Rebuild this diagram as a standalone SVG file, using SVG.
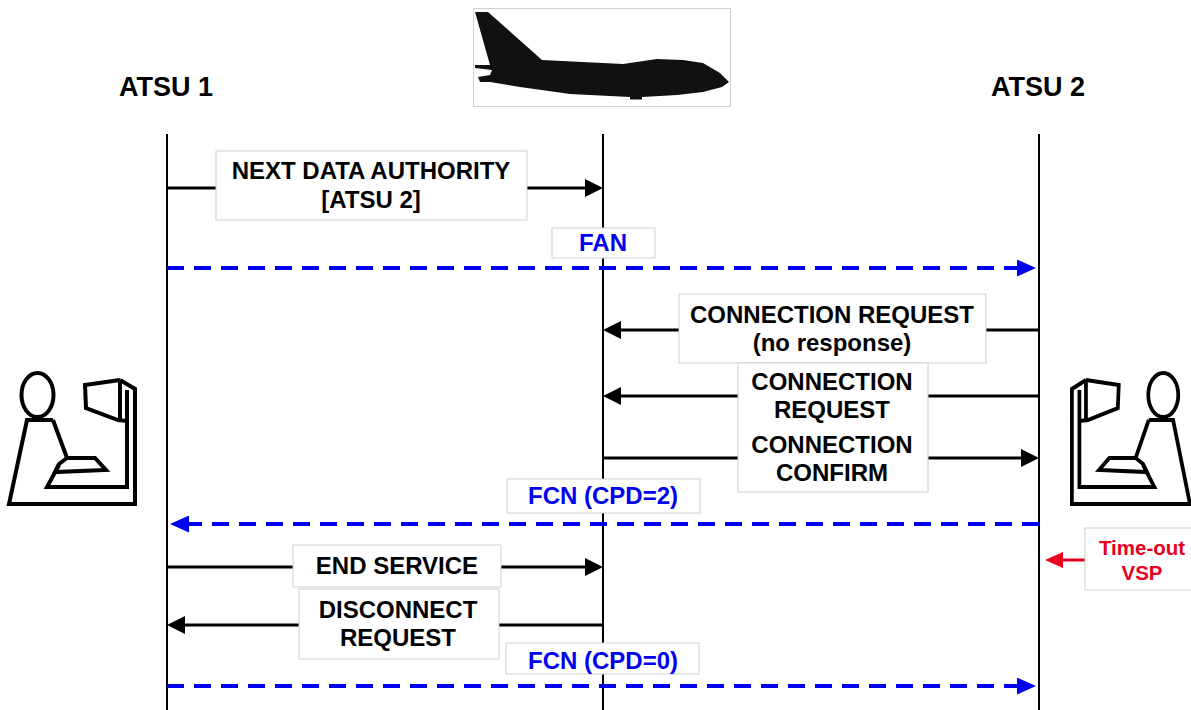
<svg xmlns="http://www.w3.org/2000/svg" width="1191" height="710" viewBox="0 0 1191 710">
  <defs>
    <marker id="ahBlack" markerUnits="userSpaceOnUse" markerWidth="18" markerHeight="18" refX="10" refY="9" orient="auto" viewBox="0 0 18 18">
      <path d="M0,0 L18,9 L0,18 Z" fill="#000"/>
    </marker>
    <marker id="ahBlue" markerUnits="userSpaceOnUse" markerWidth="19" markerHeight="17" refX="11" refY="8.5" orient="auto" viewBox="0 0 19 17">
      <path d="M0,0 L19,8.5 L0,17 Z" fill="#0000f0"/>
    </marker>
    <marker id="ahRed" markerUnits="userSpaceOnUse" markerWidth="18" markerHeight="16" refX="10" refY="8" orient="auto" viewBox="0 0 18 16">
      <path d="M0,0 L18,8 L0,16 Z" fill="#e8001c"/>
    </marker>
    <g id="operator" fill="none" stroke="#000" stroke-width="4" stroke-linejoin="miter">
      <ellipse cx="37.5" cy="395" rx="16" ry="22"/>
      <path d="M53,420 L27,420 L9,504 L135,504 L135,389 L120,380"/>
      <path d="M120,380 L85,385 L86,408 L118,420 L127,421"/>
      <path d="M120,380 L120,420"/>
      <path d="M127,390 L127,487 L47,487 L59,465"/>
      <path d="M53,420 L67,458 L95,458 L106,470 L55,472 L59,464 L67,458"/>
    </g>
  </defs>
  <style>
    .life { stroke:#000; stroke-width:2; fill:none; }
    .msg { stroke:#000; stroke-width:3; fill:none; }
    .dash { stroke:#0000f0; stroke-width:4; fill:none; stroke-dasharray:17 10; }
    .box { fill:#fff; stroke:#d0d0d0; stroke-width:1; }
    .lbl { font-family:"Liberation Sans", Arial, sans-serif; font-weight:bold; text-anchor:middle; fill:#000; font-size:24px; }
    .title { font-size:27px; }
    .small { font-size:20.5px; }
    .blue { fill:#0000f0; }
    .red { fill:#e8001c; }
  </style>
  <rect width="1191" height="710" fill="#fff"/>

  <g id="lifelines">
    <line class="life" x1="167" y1="134" x2="167" y2="710"/>
    <line class="life" x1="603" y1="134" x2="603" y2="710"/>
    <line class="life" x1="1039" y1="134" x2="1039" y2="710"/>
  </g>

  <g id="connectors">
    <line class="msg" x1="167" y1="188" x2="595" y2="188" marker-end="url(#ahBlack)"/>
    <line class="dash" x1="167" y1="268" x2="1028" y2="268" marker-end="url(#ahBlue)"/>
    <line class="msg" x1="1039" y1="330" x2="611" y2="330" marker-end="url(#ahBlack)"/>
    <line class="msg" x1="1039" y1="396" x2="611" y2="396" marker-end="url(#ahBlack)"/>
    <line class="msg" x1="603" y1="458" x2="1031" y2="458" marker-end="url(#ahBlack)"/>
    <line class="dash" x1="1039" y1="524" x2="178" y2="524" marker-end="url(#ahBlue)"/>
    <line class="msg" x1="167" y1="567" x2="595" y2="567" marker-end="url(#ahBlack)"/>
    <line class="msg" x1="603" y1="625" x2="175" y2="625" marker-end="url(#ahBlack)"/>
    <line class="dash" x1="167" y1="686" x2="1028" y2="686" marker-end="url(#ahBlue)"/>
    <line stroke="#e8001c" stroke-width="3" x1="1085" y1="560" x2="1053" y2="560" marker-end="url(#ahRed)"/>
  </g>

  <g id="atsu1">
    <text class="lbl title" x="166" y="96">ATSU 1</text>
    <use href="#operator"/>
  </g>

  <g id="atsu2">
    <text class="lbl title" x="1038" y="96">ATSU 2</text>
    <use href="#operator" transform="translate(1198.4,0) scale(-0.937,1)"/>
  </g>

  <g id="aircraft">
    <rect x="473.5" y="8.5" width="257" height="98" fill="#fff" stroke="#d0d0d0" stroke-width="1"/>
    <path fill="#111" d="M475,12 L488,12 L542,60 L623,64 L657,59 L683,60 L703,63 L720,73 L729,82 L722,87 L703,92 L677,95 L642,97 L642,99.5 L630,99.5 L630,97 L570,94 L520,87 L490,82 L480,82 L478,77 L490,75 L492,70 L475,68 L475,65 L490,65 Z"/>
  </g>

  <g id="msg-nda">
    <rect class="box" x="216" y="151" width="311" height="69"/>
    <text class="lbl" x="371" y="179">NEXT DATA AUTHORITY</text>
    <text class="lbl" x="371" y="208">[ATSU 2]</text>
  </g>

  <g id="msg-fan">
    <rect class="box" x="552" y="228" width="103" height="30"/>
    <text class="lbl blue" x="603" y="251">FAN</text>
  </g>

  <g id="msg-cr1">
    <rect class="box" x="679" y="294" width="307" height="69"/>
    <text class="lbl" x="832" y="323">CONNECTION REQUEST</text>
    <text class="lbl" x="832" y="351">(no response)</text>
  </g>

  <g id="msg-cr2-cc">
    <rect class="box" x="738" y="363" width="190" height="129"/>
    <text class="lbl" x="832" y="390">CONNECTION</text>
    <text class="lbl" x="832" y="418">REQUEST</text>
    <text class="lbl" x="832" y="453">CONNECTION</text>
    <text class="lbl" x="832" y="481">CONFIRM</text>
  </g>

  <g id="msg-fcn2">
    <rect class="box" x="507" y="479" width="193" height="34"/>
    <text class="lbl blue" x="603" y="504">FCN (CPD=2)</text>
  </g>

  <g id="msg-end">
    <rect class="box" x="293" y="545" width="208" height="42"/>
    <text class="lbl" x="397" y="574">END SERVICE</text>
  </g>

  <g id="msg-disc">
    <rect class="box" x="299" y="589" width="200" height="70"/>
    <text class="lbl" x="398" y="618">DISCONNECT</text>
    <text class="lbl" x="398" y="646">REQUEST</text>
  </g>

  <g id="msg-fcn0">
    <rect class="box" x="506" y="643" width="193" height="31"/>
    <text class="lbl blue" x="603" y="669">FCN (CPD=0)</text>
  </g>

  <g id="timeout">
    <rect class="box" x="1085" y="528" width="110" height="62"/>
    <text class="lbl red small" x="1142" y="555">Time-out</text>
    <text class="lbl red small" x="1142" y="580">VSP</text>
  </g>
</svg>
